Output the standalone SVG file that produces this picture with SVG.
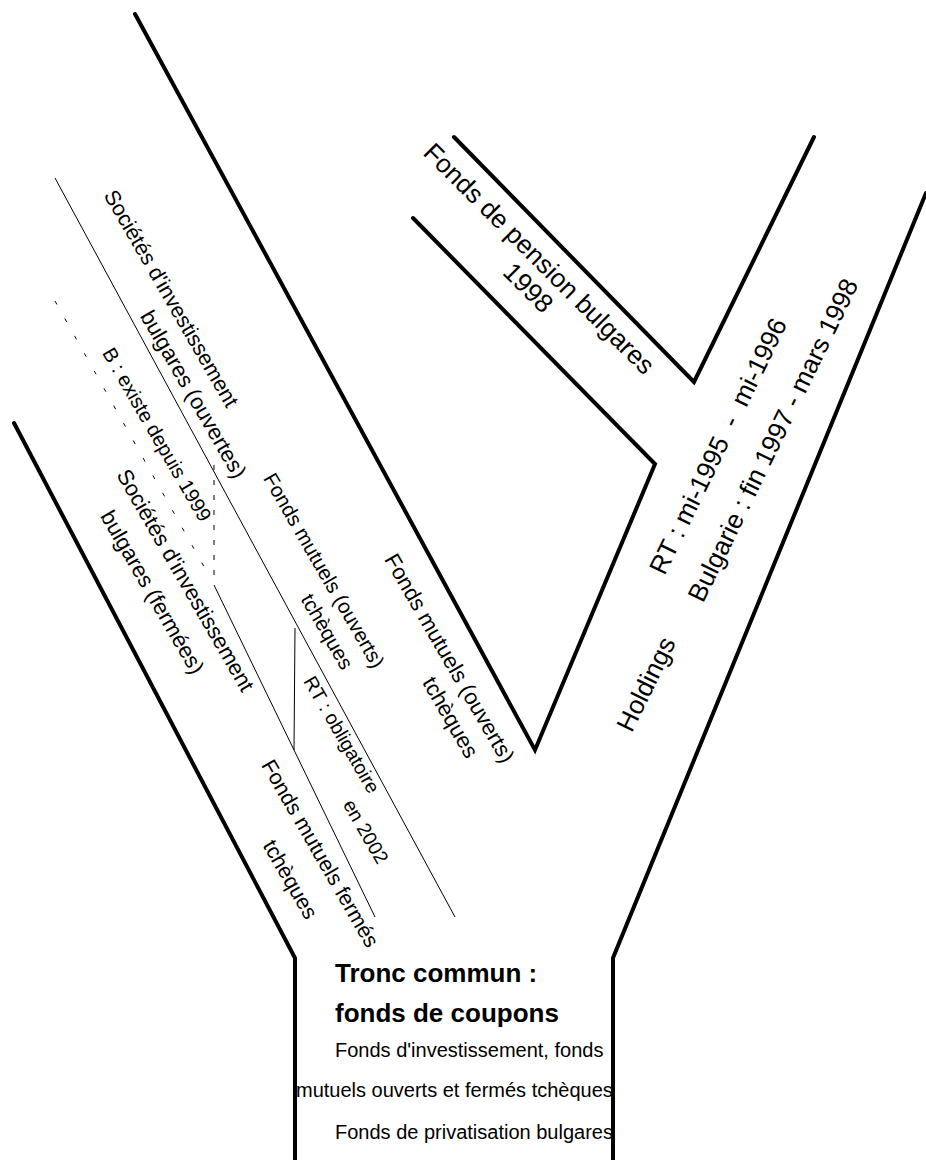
<svg xmlns="http://www.w3.org/2000/svg" width="926" height="1160" viewBox="0 0 926 1160">
<style>
.thick{stroke:#000;stroke-width:4;fill:none;stroke-linejoin:miter;stroke-linecap:round}
.thin{stroke:#000;stroke-width:1;fill:none}
.dots{stroke:#000;stroke-width:1;fill:none;stroke-dasharray:4 16}
.dash{stroke:#000;stroke-width:1;fill:none;stroke-dasharray:5 10}
text{font-family:"Liberation Sans",Arial,Helvetica,sans-serif;fill:#000}
.lbl{text-anchor:middle}
.b{font-weight:bold;font-size:26px}
.r{font-size:20px}
</style>
<rect width="926" height="1160" fill="#fff"/>
<g id="connectors">
<polyline class="thick" points="135,14 535,750 655,464 413,218"/>
<polyline class="thick" points="454,137 694,382 814,137"/>
<polyline class="thick" points="926,193 613,958 613,1162"/>
<polyline class="thick" points="14,423 295,958 295,1162"/>
<line class="thin" x1="55" y1="178" x2="455" y2="917"/>
<line class="thin" x1="214" y1="585" x2="375" y2="917"/>
<line class="thin" x1="295" y1="628" x2="294" y2="750"/>
<line class="dots" x1="55" y1="301" x2="207" y2="572"/>
<line class="dash" x1="214" y1="465" x2="214" y2="576"/>
</g>
<g id="node-trunk">
<text class="b" x="335" y="982">Tronc commun :</text>
<text class="b" x="335" y="1022">fonds de coupons</text>
<text class="r" x="335" y="1057">Fonds d'investissement, fonds</text>
<text class="r" x="296" y="1097">mutuels ouverts et fermés tchèques</text>
<text class="r" x="335" y="1139">Fonds de privatisation bulgares</text>
</g>
<g id="node-societes-ouvertes">
<text class="lbl" font-size="21.5" transform="translate(165,302) rotate(60)">Sociétés d'investissement</text>
<text class="lbl" font-size="22" transform="translate(187,398) rotate(60)">bulgares (ouvertes)</text>
</g>
<g id="node-existe-1999">
<text class="lbl" font-size="20" transform="translate(151,438) rotate(60)">B : existe depuis 1999</text>
</g>
<g id="node-societes-fermees">
<text class="lbl" font-size="22" transform="translate(179,584) rotate(60)">Sociétés d'investissement</text>
<text class="lbl" font-size="22" transform="translate(146,596) rotate(60)">bulgares (fermées)</text>
</g>
<g id="node-fonds-mutuels-ouverts-inner">
<text class="lbl" font-size="20.5" transform="translate(318,574) rotate(60)">Fonds mutuels (ouverts)</text>
<text class="lbl" font-size="20.5" transform="translate(321,635) rotate(60)">tchèques</text>
</g>
<g id="node-rt-obligatoire">
<text class="lbl" font-size="19.5" transform="translate(336,738) rotate(60)">RT : obligatoire</text>
<text class="lbl" font-size="19.5" transform="translate(360,835) rotate(60)">en 2002</text>
</g>
<g id="node-fonds-mutuels-fermes">
<text class="lbl" font-size="21.5" transform="translate(314,857) rotate(60)">Fonds mutuels fermés</text>
<text class="lbl" font-size="21.5" transform="translate(284,883) rotate(60)">tchèques</text>
</g>
<g id="node-fonds-mutuels-ouverts-outer">
<text class="lbl" font-size="22" transform="translate(443,662) rotate(60)">Fonds mutuels (ouverts)</text>
<text class="lbl" font-size="22" transform="translate(444,721) rotate(60)">tchèques</text>
</g>
<g id="node-pension">
<text class="lbl" font-size="26" transform="translate(533,265) rotate(45)">Fonds de pension bulgares</text>
<text class="lbl" font-size="26" transform="translate(522,294) rotate(45)">1998</text>
</g>
<g id="node-holdings">
<text class="lbl" font-size="26" transform="translate(654,688) rotate(-64)">Holdings</text>
<text class="lbl" font-size="26" xml:space="preserve" transform="translate(726,450) rotate(-64)">RT : mi-1995  -  mi-1996</text>
<text class="lbl" font-size="26" transform="translate(781,444) rotate(-64)">Bulgarie : fin 1997 - mars 1998</text>
</g>
</svg>
